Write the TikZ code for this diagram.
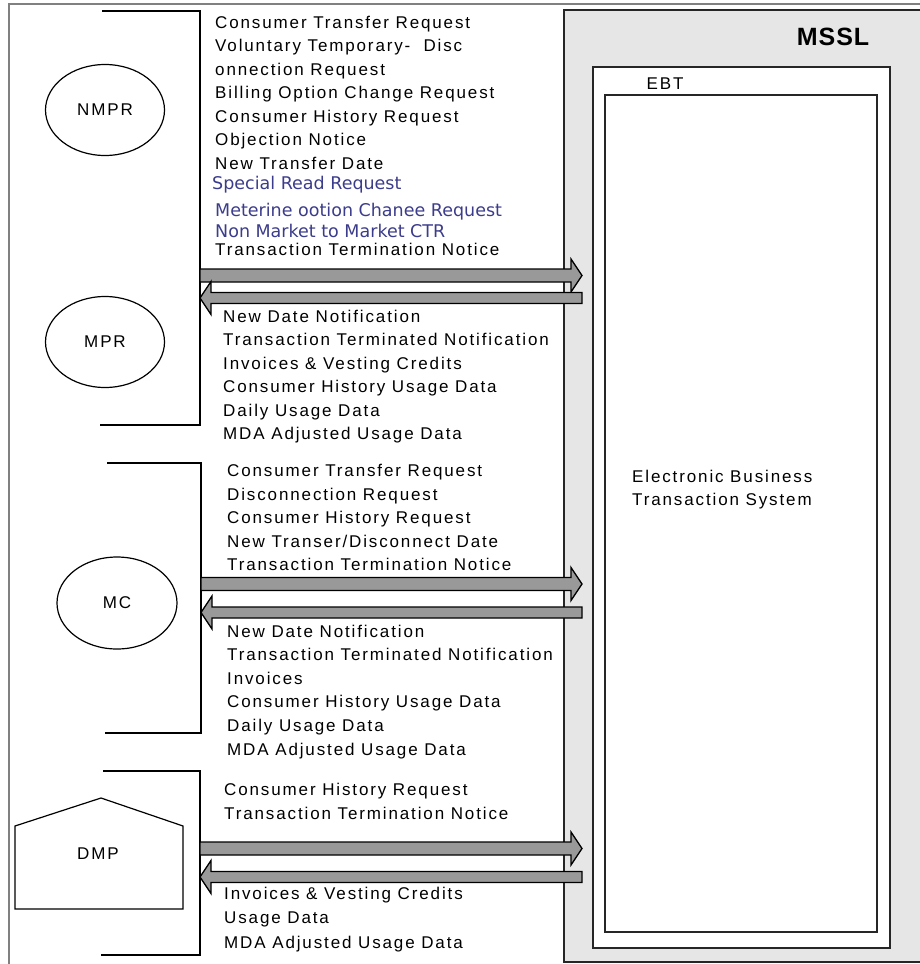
\documentclass[tikz,border=0pt]{standalone}
\usepackage{fontspec}
\setmainfont{Liberation Sans}
\newfontfamily\lstfont[LetterSpace=11]{Liberation Sans}
\newfontfamily\boldlbl[LetterSpace=4]{Liberation Sans Bold}
\newfontfamily\blufont{DejaVu Sans}
\usetikzlibrary{calc,shapes.geometric}
\definecolor{msslgray}{RGB}{230,230,230}
\definecolor{arrowgray}{RGB}{153,153,153}
\definecolor{bluetext}{RGB}{60,60,140}
\definecolor{framegray}{RGB}{128,128,128}
\newcommand\blockR[2]{\filldraw[blockarrow] ($(#1)+(0,-6.5)$) -- ($(#2)+(-11,-6.5)$) -- ($(#2)+(-11,-16.5)$) -- (#2) -- ($(#2)+(-11,16.5)$) -- ($(#2)+(-11,6.5)$) -- ($(#1)+(0,6.5)$) -- cycle;}
\newcommand\blockL[2]{\filldraw[blockarrow] ($(#1)+(0,-5.5)$) -- ($(#2)+(11,-5.5)$) -- ($(#2)+(11,-16.5)$) -- (#2) -- ($(#2)+(11,16.5)$) -- ($(#2)+(11,5.5)$) -- ($(#1)+(0,5.5)$) -- cycle;}
\begin{document}
\begin{tikzpicture}[x=1pt,y=-1pt,
  lbl/.style={anchor=base west, inner sep=0pt, font={\lstfont\fontsize{17pt}{20pt}\selectfont}},
  blbl/.style={anchor=base west, inner sep=0pt, text=bluetext, font={\blufont\fontsize{17.5pt}{20pt}\selectfont}},
  shapelbl/.style={font={\lstfont\fontsize{17pt}{20pt}\selectfont}},
  party/.style={draw, line width=1.2pt, ellipse, inner sep=0pt, minimum width=119pt, minimum height=91pt, font={\lstfont\fontsize{17pt}{20pt}\selectfont}},
  bracket/.style={line width=1.5pt},
  boxline/.style={line width=1.6pt, draw=black!85},
  blockarrow/.style={fill=arrowgray, draw=black, line width=1.3pt, line join=miter}]
\useasboundingbox (0,0) rectangle (919,964);
\fill[white] (0,0) rectangle (919,964);
% outer frame
\draw[framegray, line width=2.2pt] (9,970) -- (9,4) -- (925,4);
% MSSL
\draw[boxline, fill=msslgray] (564,10) rectangle (935,962);
\node[anchor=center, inner sep=0pt, font={\boldlbl\fontsize{25pt}{28pt}\selectfont}] (mssl) at (833,37) {MSSL};
% EBT
\draw[boxline, fill=white] (593,67) rectangle (890,948);
\node[shapelbl, inner sep=0pt] (ebt) at (665,84) {EBT};
\draw[boxline] (605,95) rectangle (877,932);
\node[lbl] (ebts1) at (632,482) {Electronic Business};
\node[lbl] (ebts2) at (632,505) {Transaction System};
% parties
\node[party] (nmpr) at (105,110) {NMPR};
\node[party] (mpr) at (105,342) {MPR};
\node[party, minimum width=120pt, minimum height=92pt] (mc) at (117,603) {MC};
\draw[line width=1.2pt] (15,909) -- (15,826) -- (101,798) -- (183,826) -- (183,909) -- cycle;
\node[shapelbl] (dmp) at (98,854) {DMP};
% brackets
\draw[bracket] (102,11) -- (200,11) -- (200,425) -- (100,425);
\draw[bracket] (107,463) -- (201,463) -- (201,733) -- (105,733);
\draw[bracket] (103,771) -- (200,771) -- (200,955) -- (101,955);
% arrow end points
\coordinate (g1a) at (200,275.5); \coordinate (g1b) at (582,275.5);
\coordinate (g1c) at (582,298);   \coordinate (g1d) at (200,298);
\coordinate (g2a) at (201,584);   \coordinate (g2b) at (582,584);
\coordinate (g2c) at (582,612.5); \coordinate (g2d) at (201,612.5);
\coordinate (g3a) at (200,848.5); \coordinate (g3b) at (582,848.5);
\coordinate (g3c) at (582,877);   \coordinate (g3d) at (200,877);
\blockR{g1a}{g1b}
\blockL{g1c}{g1d}
\blockR{g2a}{g2b}
\blockL{g2c}{g2d}
\blockR{g3a}{g3b}
\blockL{g3c}{g3d}
% group 1 requests
\node[lbl] (r1a) at (215,28) {Consumer Transfer Request};
\node[lbl] (r1b) at (215,51.5) {Voluntary Temporary-\ \ Disc};
\node[lbl] (r1c) at (215,75) {onnection Request};
\node[lbl] (r1d) at (215,98.5) {Billing Option Change Request};
\node[lbl] (r1e) at (215,122) {Consumer History Request};
\node[lbl] (r1f) at (215,145.5) {Objection Notice};
\node[lbl] (r1g) at (215,169) {New Transfer Date};
\node[blbl] (r1h) at (212,189.5) {Special Read Request};
\node[blbl] (r1i) at (215,216.5) {Meterine ootion Chanee Request};
\node[blbl] (r1j) at (215,237.5) {Non Market to Market CTR};
\node[lbl] (r1k) at (215,255.5) {Transaction Termination Notice};
% group 1 responses
\node[lbl] (s1a) at (223,322) {New Date Notification};
\node[lbl] (s1b) at (223,345.5) {Transaction Terminated Notification};
\node[lbl] (s1c) at (223,369) {Invoices \& Vesting Credits};
\node[lbl] (s1d) at (223,392.5) {Consumer History Usage Data};
\node[lbl] (s1e) at (223,416) {Daily Usage Data};
\node[lbl] (s1f) at (223,439.5) {MDA Adjusted Usage Data};
% group 2 requests
\node[lbl] (r2a) at (227,476.5) {Consumer Transfer Request};
\node[lbl] (r2b) at (227,500) {Disconnection Request};
\node[lbl] (r2c) at (227,523.5) {Consumer History Request};
\node[lbl] (r2d) at (227,547) {New Transer/Disconnect Date};
\node[lbl] (r2e) at (227,570.5) {Transaction Termination Notice};
% group 2 responses
\node[lbl] (s2a) at (227,637) {New Date Notification};
\node[lbl] (s2b) at (227,660.5) {Transaction Terminated Notification};
\node[lbl] (s2c) at (227,684) {Invoices};
\node[lbl] (s2d) at (227,707.5) {Consumer History Usage Data};
\node[lbl] (s2e) at (227,731) {Daily Usage Data};
\node[lbl] (s2f) at (227,755) {MDA Adjusted Usage Data};
% group 3 requests
\node[lbl] (r3a) at (224,795) {Consumer History Request};
\node[lbl] (r3b) at (224,819) {Transaction Termination Notice};
% group 3 responses
\node[lbl] (s3a) at (224,899) {Invoices \& Vesting Credits};
\node[lbl] (s3b) at (224,923) {Usage Data};
\node[lbl] (s3c) at (224,948) {MDA Adjusted Usage Data};
\end{tikzpicture}
\end{document}
